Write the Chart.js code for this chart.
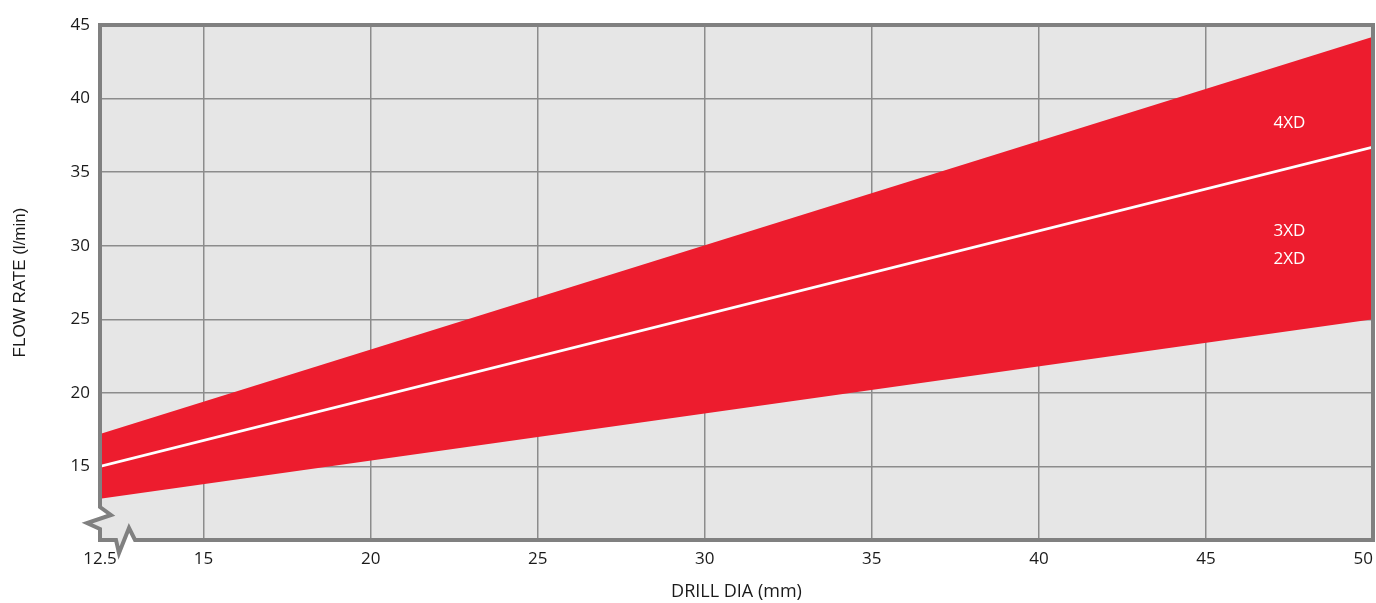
<!DOCTYPE html>
<html>
<head>
<meta charset="utf-8">
<script src="https://cdn.jsdelivr.net/npm/chart.js@4/dist/chart.umd.min.js"></script>
<style>
  html, body { margin: 0; padding: 0; background: #fff; }
  #wrap { width: 1376px; height: 603px; }
</style>
</head>
<body>
<div id="wrap"><canvas id="chart" width="1376" height="603"></canvas></div>
<script>
// drill diameter (mm) at the two ends of the chart
const drillDia = [12.5, 50];
// flow rate (l/min)
const flowLow = [12.8, 25.0];
const flowMid = [15.0, 36.7];
const flowHigh = [17.2, 44.2];

const xTicks = [12.5, 15, 20, 25, 30, 35, 40, 45, 50];
const yTicks = [15, 20, 25, 30, 35, 40, 45];

const bandLabels = ['4XD', '3XD', '2XD'];
const bandLabelX = [47.5, 47.5, 47.5];
const bandLabelY = [38.3, 31.0, 29.1];

// axis is broken below 15: the "12.5" tick sits at the left edge
const X_AXIS_MIN = 11.9;
const xPos = v => (v === 12.5 ? X_AXIS_MIN : v);

const RED = '#ed1c2e';
const GRID = '#8c8c8c';
const FRAME = '#808080';
const PLOT_BG = '#e6e6e6';

const pts = arr => drillDia.map((d, i) => ({ x: xPos(d), y: arr[i] }));

// plot frame with the axis-break zigzags
function framePath(ctx, a) {
  const L = a.left, R = a.right, T = a.top, B = a.bottom;
  ctx.beginPath();
  ctx.moveTo(L, T);
  ctx.lineTo(R, T);
  ctx.lineTo(R, B);
  ctx.lineTo(L + 35, B);
  ctx.lineTo(L + 29, B - 12);
  ctx.lineTo(L + 19, B + 13);
  ctx.lineTo(L + 16, B);
  ctx.lineTo(L, B);
  ctx.lineTo(L, B - 11);
  ctx.lineTo(L - 13, B - 17);
  ctx.lineTo(L + 11, B - 25);
  ctx.lineTo(L, B - 33);
  ctx.closePath();
}

const framePlugin = {
  id: 'frame',
  beforeDraw(chart) {
    const ctx = chart.ctx;
    ctx.save();
    framePath(ctx, chart.chartArea);
    ctx.fillStyle = PLOT_BG;
    ctx.fill();
    ctx.restore();
  },
  afterDatasetsDraw(chart) {
    const ctx = chart.ctx;
    ctx.save();
    framePath(ctx, chart.chartArea);
    ctx.lineWidth = 4;
    ctx.lineJoin = 'miter';
    ctx.strokeStyle = FRAME;
    ctx.stroke();

    // band labels
    const xs = chart.scales.x, ys = chart.scales.y;
    ctx.fillStyle = '#ffffff';
    ctx.font = '17px "Open Sans"';
    ctx.textAlign = 'center';
    ctx.textBaseline = 'middle';
    bandLabels.forEach((t, i) => {
      ctx.fillText(t, xs.getPixelForValue(bandLabelX[i]), ys.getPixelForValue(bandLabelY[i]));
    });
    ctx.restore();
  }
};

new Chart(document.getElementById('chart'), {
  type: 'scatter',
  data: {
    datasets: [
      {
        label: 'low',
        data: pts(flowLow),
        showLine: true,
        borderWidth: 0,
        borderColor: 'rgba(0,0,0,0)',
        pointRadius: 0,
        fill: false,
        order: 2
      },
      {
        label: 'high',
        data: pts(flowHigh),
        showLine: true,
        borderWidth: 0,
        borderColor: 'rgba(0,0,0,0)',
        backgroundColor: RED,
        pointRadius: 0,
        fill: 0,
        order: 2
      },
      {
        label: 'mid',
        data: pts(flowMid),
        showLine: true,
        borderWidth: 2.8,
        borderColor: '#ffffff',
        pointRadius: 0,
        fill: false,
        order: 0
      }
    ]
  },
  options: {
    responsive: false,
    animation: false,
    layout: { padding: { top: 25, right: 3, left: 0, bottom: 0 } },
    plugins: {
      legend: { display: false },
      tooltip: { enabled: false }
    },
    scales: {
      x: {
        type: 'linear',
        min: X_AXIS_MIN,
        max: 50,
        afterBuildTicks(scale) {
          scale.ticks = xTicks.map(v => ({ value: xPos(v) }));
        },
        afterFit(scale) {
          scale.height = 63;
          scale.paddingLeft = 0;
          scale.paddingRight = 0;
        },
        border: { display: false },
        grid: {
          drawTicks: false,
          lineWidth: 1.5,
          color: c => (c.tick && (c.tick.value === X_AXIS_MIN || c.tick.value === 50) ? 'rgba(0,0,0,0)' : GRID)
        },
        ticks: {
          padding: 9,
          color: '#1a1a1a',
          font: { family: 'Open Sans', size: 17 },
          maxRotation: 0,
          autoSkip: false,
          // last label sits inside the frame, so pad it on the right
          callback: v => (v === X_AXIS_MIN ? '12.5' : v === 50 ? '50\u2007\u2007' : String(v))
        },
        title: {
          display: true,
          text: 'DRILL DIA (mm)',
          color: '#1a1a1a',
          font: { family: 'Open Sans', size: 18 },
          padding: { top: 4, bottom: 0 }
        }
      },
      y: {
        type: 'linear',
        min: 10,
        max: 45,
        afterBuildTicks(scale) {
          scale.ticks = [10].concat(yTicks).map(v => ({ value: v }));
        },
        afterFit(scale) {
          scale.width = 100;
          scale.paddingTop = 0;
          scale.paddingBottom = 0;
        },
        border: { display: false },
        grid: {
          drawTicks: false,
          lineWidth: 1.5,
          color: c => (c.tick && (c.tick.value === 10 || c.tick.value === 45) ? 'rgba(0,0,0,0)' : GRID)
        },
        ticks: {
          padding: 10,
          color: '#1a1a1a',
          font: { family: 'Open Sans', size: 17 },
          callback: v => (v === 10 ? '' : String(v))
        },
        title: {
          display: true,
          text: 'FLOW RATE (l/min)',
          color: '#1a1a1a',
          font: { family: 'Liberation Sans', size: 17 },
          padding: { top: 10, bottom: 0 }
        }
      }
    }
  },
  plugins: [framePlugin]
});
</script>
</body>
</html>
